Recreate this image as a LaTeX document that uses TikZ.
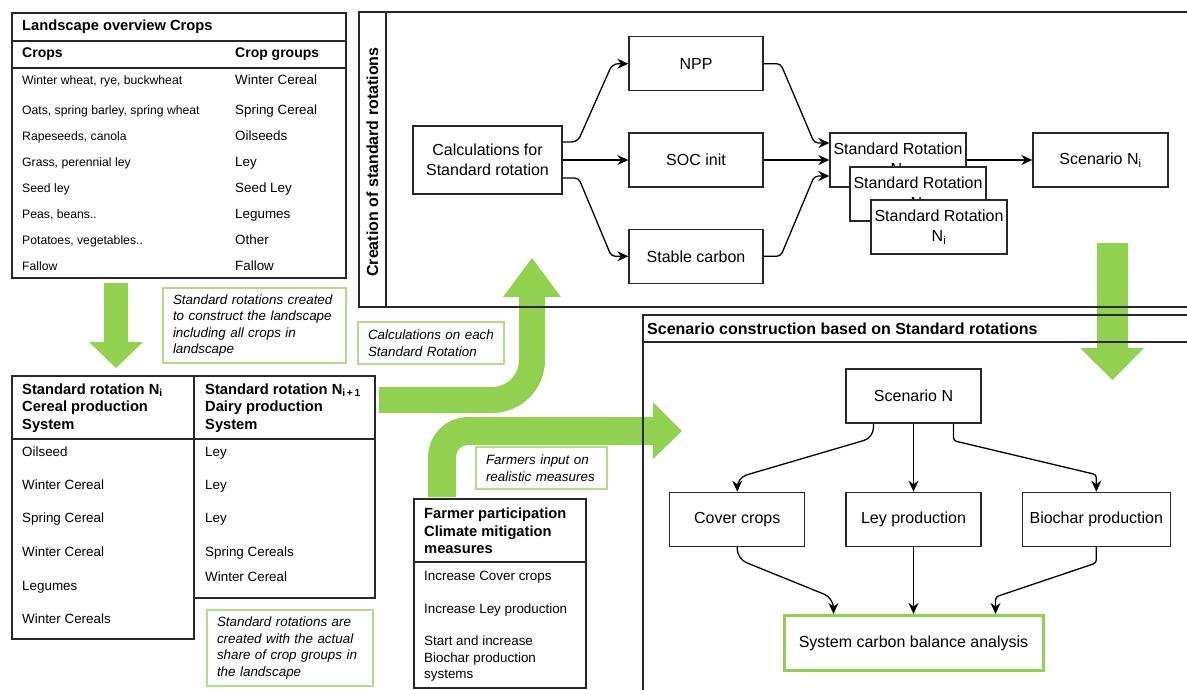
\documentclass[tikz,border=0pt]{standalone}
\usepackage{fontspec}
\setmainfont{Liberation Sans}
\usetikzlibrary{positioning,arrows.meta}

\definecolor{arrowgreen}{RGB}{146,208,80}
\definecolor{notegreen}{RGB}{176,220,140}
\definecolor{linegray}{RGB}{40,40,40}

\tikzset{
  box/.style={draw=linegray, fill=white, line width=1.3pt, minimum width=134pt, minimum height=54pt,
    align=center, inner sep=2pt, font=\fontsize{16}{20}\selectfont},
  panel/.style={draw=linegray, line width=1.3pt},
  note/.style={draw=notegreen, line width=1.2pt, align=left, inner xsep=10pt, inner ysep=0pt,
    font=\fontsize{13.4}{16.5}\selectfont\itshape},
  cell/.style={anchor=west, inner sep=0pt, text height=9.6pt, text depth=0pt, font=\fontsize{13.4}{16}\selectfont},
  celltxt/.style={anchor=west, inner sep=0pt, align=left, font=\fontsize{13.4}{16.5}\selectfont},
  hdr/.style={anchor=west, inner sep=0pt, align=left, font=\fontsize{14.7}{17.5}\selectfont\bfseries},
  title/.style={anchor=west, inner sep=0pt, font=\fontsize{16}{19}\selectfont\bfseries},
  flow/.style={-{Stealth[length=11pt,width=10pt]}, line width=1.3pt, draw=black},
  bigarrow/.style={fill=arrowgreen},
}

\begin{document}
\begin{tikzpicture}[x=1pt, y=-1pt]
\useasboundingbox (0,0) rectangle (1187,689);
\clip (0,0) rectangle (1187,689);

% green arrows between the parts
\fill[bigarrow] (104,283) -- (128,283) -- (128,342) -- (143,342) -- (116,368) -- (89,342) -- (104,342) -- cycle;
\draw[arrowgreen, line width=26pt, rounded corners=40pt] (379,400) -- (532,400) -- (532,296);
\fill[bigarrow] (503,297) -- (561,297) -- (532,258) -- cycle;
\draw[arrowgreen, line width=28pt, rounded corners=26pt] (442,497) -- (442,431) -- (654,431);
\fill[bigarrow] (653,402) -- (682,431) -- (653,459) -- cycle;
\fill[bigarrow] (1097,243) -- (1128,243) -- (1128,348) -- (1144,348) -- (1112.5,380) -- (1080,348) -- (1097,348) -- cycle;

% landscape table
\draw[panel] (12,13) rectangle (346,278);
\draw[panel] (12,41) -- (346,41) (12,68) -- (346,68);
\node[hdr] (landhd) at (22,27) {Landscape overview Crops};
\node[hdr, font=\fontsize{14}{17}\selectfont\bfseries] (crophd) at (22,54) {Crops};
\node[hdr, font=\fontsize{14}{17}\selectfont\bfseries] (grouphd) at (235,54) {Crop groups};
\foreach \y/\crop/\grp [count=\i] in {80/{Winter wheat, rye, buckwheat}/Winter Cereal,
    110/{Oats, spring barley, spring wheat}/Spring Cereal, 136/{Rapeseeds, canola}/Oilseeds,
    162/{Grass, perennial ley}/Ley, 188/Seed ley/Seed Ley, 214/{Peas, beans..}/Legumes,
    240/{Potatoes, vegetables..}/Other, 266/Fallow/Fallow}{
  \node[cell, text height=8.8pt, font=\fontsize{12.2}{14}\selectfont] (crop\i) at (22,\y) {\crop};
  \node[cell] (grp\i) at (235,\y) {\grp};
}

% creation of standard rotations
\draw[panel] (359,12) rectangle (1200,307);
\draw[panel] (386,12) -- (386,307);
\node[title, anchor=center, rotate=90] (crtitle) at (372.5,162) {Creation of standard rotations};

\node[box, minimum width=149pt, minimum height=68pt] (calc) at (487.5,160) {Calculations for\\Standard rotation};
\node[box] (soc) at (696,160) {SOC init};
\node[box, above=41pt of soc] (npp) {NPP};
\node[box, below=41pt of soc] (stable) {Stable carbon};
\node[box, minimum width=136pt] (rot1) at (898,160) {Standard Rotation\\N\textsubscript{i}};
\node[box, minimum width=136pt] (rot2) at (918,194) {Standard Rotation\\N\textsubscript{i}};
\node[box, minimum width=136pt] (rot3) at (939,227) {Standard Rotation\\N\textsubscript{i}};
\node[box, minimum width=135pt] (scni) at (1100.5,160) {Scenario N\textsubscript{i}};

\draw[flow, rounded corners=6pt] ([yshift=18pt]calc.east) -- ++(15,0) -- ([xshift=-16pt]npp.west) -- (npp.west);
\draw[flow] (calc) -- (soc);
\draw[flow, rounded corners=4pt] ([yshift=-18pt]calc.east) -- ++(16,0) -- ([xshift=-17pt]stable.west) -- (stable.west);
\draw[flow, rounded corners=4pt] (npp.east) -- ++(17,0) -- ([xshift=-15pt, yshift=17pt]rot1.west) -- ([yshift=17pt]rot1.west);
\draw[flow] (soc) -- (rot1);
\draw[flow, rounded corners=4pt] (stable.east) -- ++(17,0) -- ([xshift=-15pt, yshift=-16pt]rot1.west) -- ([yshift=-16pt]rot1.west);
\draw[flow] (rot1) -- (scni);

% scenario construction
\draw[panel] (643,315) rectangle (1200,700);
\draw[panel] (643,342) -- (1200,342);
\node[title] (sctitle) at (647,329) {Scenario construction based on Standard rotations};

\node[box, minimum width=135pt] (scn) at (913.5,396) {Scenario N};
\node[box, minimum width=135pt, below=68pt of scn] (ley) {Ley production};
\node[box, minimum width=135pt, left=40pt of ley] (cover) {Cover crops};
\node[box, minimum width=148pt, right=40pt of ley] (bio) {Biochar production};
\node[box, draw=arrowgreen, line width=3pt, minimum width=259pt, minimum height=55pt, below=67pt of ley] (sys) {System carbon balance analysis};

\draw[flow, rounded corners=10pt] ([xshift=-40pt]scn.south) -- ++(0,14) -- ([yshift=14pt]cover.north) -- (cover.north);
\draw[flow] (scn) -- (ley);
\draw[flow, rounded corners=3pt] ([xshift=40pt]scn.south) -- ++(0,17) -- ([yshift=17pt]bio.north) -- (bio.north);
\draw[flow, rounded corners=10pt] (cover.south) -- ++(0,12) -- ([xshift=-80pt, yshift=16pt]sys.north) -- ([xshift=-80pt]sys.north);
\draw[flow] (ley) -- (sys);
\draw[flow, rounded corners=3pt] (bio.south) -- ++(0,16) -- ([xshift=82pt, yshift=17pt]sys.north) -- ([xshift=82pt]sys.north);

% standard rotation tables
\draw[panel] (12,376) rectangle (194,639);
\draw[panel] (194,376) rectangle (375,598);
\draw[panel] (12,439) -- (375,439);
\node[hdr] (rotAhd) at (22,408) {Standard rotation N\textsubscript{i}\\Cereal production\\System};
\node[hdr] (rotBhd) at (205,408) {Standard rotation N\textsubscript{i\,+\,1}\\Dairy production\\System};
\foreach \y/\item [count=\i] in {452/Oilseed, 485/Winter Cereal, 518/Spring Cereal, 552/Winter Cereal, 586/Legumes, 619/Winter Cereals}
  \node[cell] (rotA\i) at (22,\y) {\item};
\foreach \y/\item [count=\i] in {452/Ley, 485/Ley, 518/Ley, 552/Spring Cereals, 577/Winter Cereal}
  \node[cell] (rotB\i) at (205,\y) {\item};

% farmer participation
\draw[panel] (414,499) rectangle (586,688);
\draw[panel] (414,562) -- (586,562);
\node[hdr] (farmhd) at (424,531) {Farmer participation\\Climate mitigation\\measures};
\node[cell] (farm1) at (424,576) {Increase Cover crops};
\node[cell] (farm2) at (424,609) {Increase Ley production};
\node[celltxt] (farm3) at (424,659) {Start and increase\\Biochar production\\systems};

% notes
\node[note, minimum width=183pt, minimum height=75pt, text width=163pt] (note1) at (254.5,325.5) {Standard rotations created\\to construct the landscape\\including all crops in\\landscape};
\node[note, minimum width=146pt, minimum height=42pt, text width=126pt] (note2) at (431,343) {Calculations on each\\Standard Rotation};
\node[note, minimum width=131pt, minimum height=42pt, text width=111pt] (note3) at (541.5,468) {Farmers input on\\realistic measures};
\node[note, minimum width=166pt, minimum height=76pt, text width=146pt] (note4) at (290,648) {Standard rotations are\\created with the actual\\share of crop groups in\\the landscape};
\end{tikzpicture}
\end{document}
